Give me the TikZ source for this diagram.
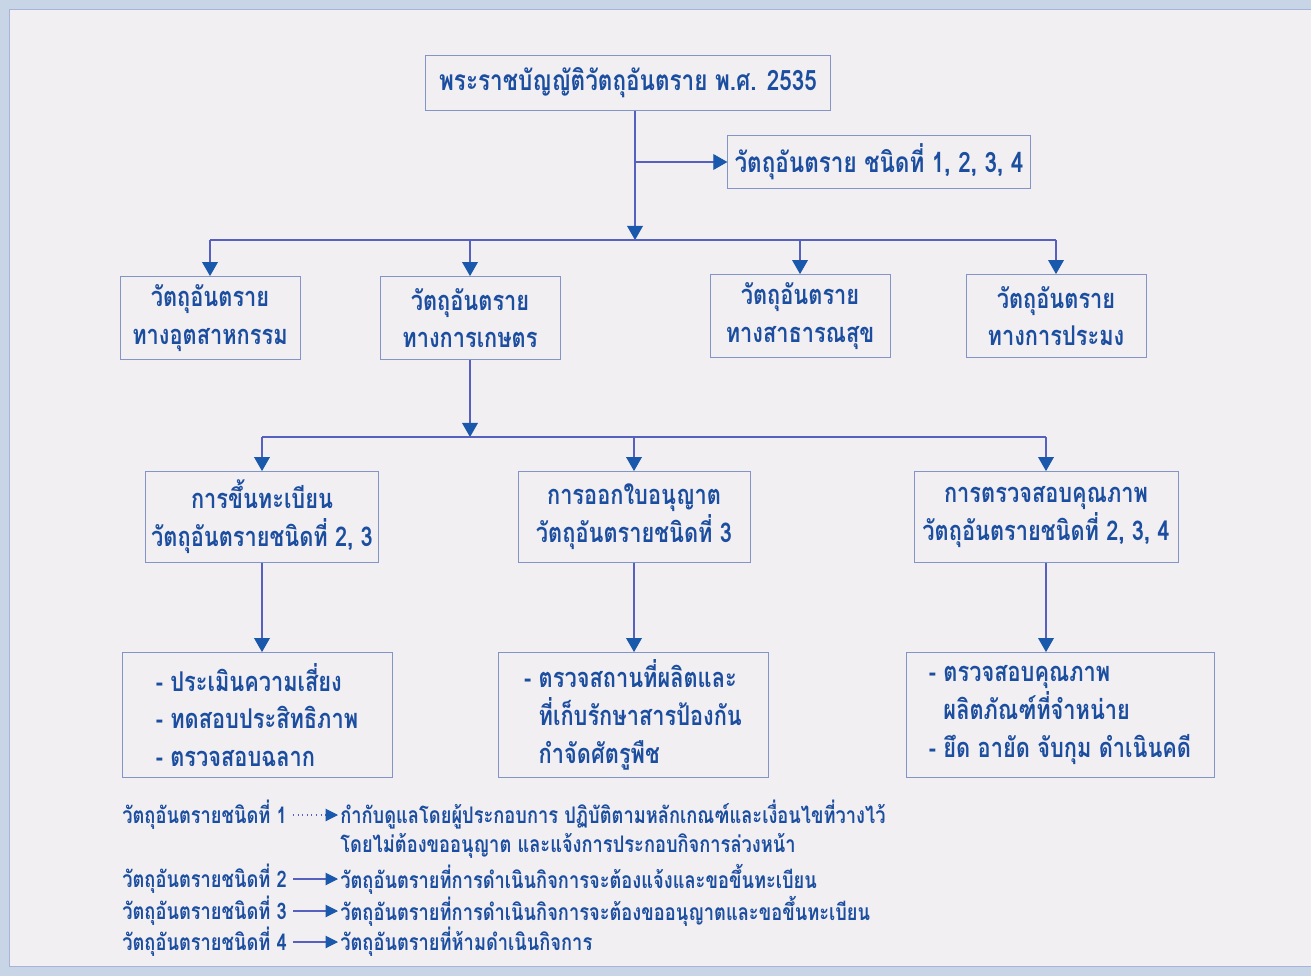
\documentclass[tikz,border=0pt]{standalone}
\usepackage{fontspec}
\newfontfamily\thaifont[Script=Thai, FakeStretch=0.8]{Loma}
\usetikzlibrary{arrows.meta, positioning, calc}
\definecolor{chartBlue}{RGB}{28, 78, 160}
\definecolor{chartLine}{RGB}{86, 96, 190}
\definecolor{chartTip}{RGB}{25, 88, 170}
\definecolor{chartEdge}{RGB}{130, 148, 200}
\definecolor{chartPaper}{RGB}{242, 239, 242}
\definecolor{chartBand}{RGB}{200, 213, 230}

\tikzset{
  box/.style={draw=chartEdge, line width=0.5pt, fill=chartPaper, text=chartBlue,
              align=center, inner sep=2pt,
              font=\thaifont\bfseries\fontsize{15.5}{21.5}\selectfont},
  link/.style={draw=chartLine, line width=0.6pt},
  arrow/.style={link, -{Triangle[length=8pt, width=9pt, color=chartTip, fill=chartTip]}},
  legend/.style={text=chartBlue, anchor=west, inner sep=0pt,
                 font=\thaifont\bfseries\fontsize{13}{16}\selectfont}
}

\begin{document}
\begin{tikzpicture}[x=0.02cm, y=-0.02cm]
                    \useasboundingbox (0,0) rectangle (1311,976);
                    \fill[chartBand] (0,0) rectangle (1311,976);
                    \filldraw[fill=chartPaper, draw=chartEdge!70] (9,9) rectangle (1311,966);
                    % boxes
                    \node[box, minimum width=8.1cm, minimum height=1.1cm] (law) at (628,83)
                        {\fontsize{16}{21}\selectfont พระราชบัญญัติวัตถุอันตราย พ.ศ. 2535};
                    \node[box, minimum width=6.05cm, minimum height=1.06cm] (kinds) at (879,162)
                        {\fontsize{16}{21}\selectfont วัตถุอันตราย ชนิดที่ 1, 2, 3, 4};
                    \node[box, minimum width=3.6cm, minimum height=1.66cm] (ind) at (210,318)
                        {วัตถุอันตราย\\ทางอุตสาหกรรม};
                    \node[box, minimum width=3.6cm, minimum height=1.66cm] (agr) at (470,318)
                        {วัตถุอันตราย\\ทางการเกษตร};
                    \node[box, minimum width=3.6cm, minimum height=1.66cm] (pub) at (800,316)
                        {วัตถุอันตราย\\ทางสาธารณสุข};
                    \node[box, minimum width=3.6cm, minimum height=1.66cm] (fish) at (1056,316)
                        {วัตถุอันตราย\\ทางการประมง};
                    \node[box, minimum width=4.66cm, minimum height=1.82cm] (reg) at (262,517)
                        {การขึ้นทะเบียน\\วัตถุอันตรายชนิดที่ 2, 3};
                    \node[box, minimum width=4.64cm, minimum height=1.82cm] (lic) at (634,517)
                        {การออกใบอนุญาต\\วัตถุอันตรายชนิดที่ 3};
                    \node[box, minimum width=5.28cm, minimum height=1.82cm] (qual) at (1046,517)
                        {การตรวจสอบคุณภาพ\\วัตถุอันตรายชนิดที่ 2, 3, 4};
                    \node[box, align=left, minimum width=5.4cm, minimum height=2.5cm] (risk) at (257,715)
                        {- ประเมินความเสี่ยง\\- ทดสอบประสิทธิภาพ\\- ตรวจสอบฉลาก};
                    \node[box, align=left, minimum width=5.4cm, minimum height=2.5cm] (site) at (633,715)
                        {- ตรวจสถานที่ผลิตและ\\\phantom{- }ที่เก็บรักษาสารป้องกัน\\\phantom{- }กำจัดศัตรูพืช};
                    \node[box, align=left, minimum width=6.16cm, minimum height=2.5cm] (seize) at (1060,715)
                        {- ตรวจสอบคุณภาพ\\\phantom{- }ผลิตภัณฑ์ที่จำหน่าย\\- ยึด อายัด จับกุม ดำเนินคดี};
                    % connectors
                    \coordinate (hub1) at (635,240);
                    \coordinate (hub2) at (470,437);
                    \draw[arrow] (law.south -| hub1) -- (hub1);
                    \draw[arrow] (hub1 |- kinds.west) -- (kinds.west);
                    \draw[link] (ind.north |- hub1) -- (fish.north |- hub1);
                    \foreach \n in {ind, agr, pub, fish} {
                        \draw[arrow] (\n.north |- hub1) -- (\n.north);
                    }
                    \draw[arrow] (agr.south) -- (hub2);
                    \draw[link] (reg.north |- hub2) -- (qual.north |- hub2);
                    \foreach \n in {reg, lic, qual} {
                        \draw[arrow] (\n.north |- hub2) -- (\n.north);
                    }
                    \draw[arrow] (reg.south) -- (reg.south |- risk.north);
                    \draw[arrow] (lic.south) -- (lic.south |- site.north);
                    \draw[arrow] (qual.south) -- (qual.south |- seize.north);
                    % legend
                    \node[legend] (k1) at (122,815) {วัตถุอันตรายชนิดที่ 1};
                    \node[legend] (d1) at (340,815) {กำกับดูแลโดยผู้ประกอบการ ปฏิบัติตามหลักเกณฑ์และเงื่อนไขที่วางไว้};
                    \node[legend] (d1b) at (340,846) {โดยไม่ต้องขออนุญาต และแจ้งการประกอบกิจการล่วงหน้า};
                    \node[legend] (k2) at (122,879) {วัตถุอันตรายชนิดที่ 2};
                    \node[legend] (d2) at (340,879) {วัตถุอันตรายที่การดำเนินกิจการจะต้องแจ้งและขอขึ้นทะเบียน};
                    \node[legend] (k3) at (122,911) {วัตถุอันตรายชนิดที่ 3};
                    \node[legend] (d3) at (340,911) {วัตถุอันตรายที่การดำเนินกิจการจะต้องขออนุญาตและขอขึ้นทะเบียน};
                    \node[legend] (k4) at (122,942) {วัตถุอันตรายชนิดที่ 4};
                    \node[legend] (d4) at (340,942) {วัตถุอันตรายที่ห้ามดำเนินกิจการ};
                    \draw[link, dotted, -{Triangle[length=7pt, width=7pt, color=chartTip, fill=chartTip]}]
                        ($(k1.east)+(6,0)$) -- ($(d1.west)+(-2,0)$);
                    \foreach \k/\d in {k2/d2, k3/d3, k4/d4} {
                        \draw[link, -{Triangle[length=7pt, width=7pt, color=chartTip, fill=chartTip]}]
                            ($(\k.east)+(6,0)$) -- ($(\d.west)+(-2,0)$);
                    }
                \end{tikzpicture}
\end{document}
